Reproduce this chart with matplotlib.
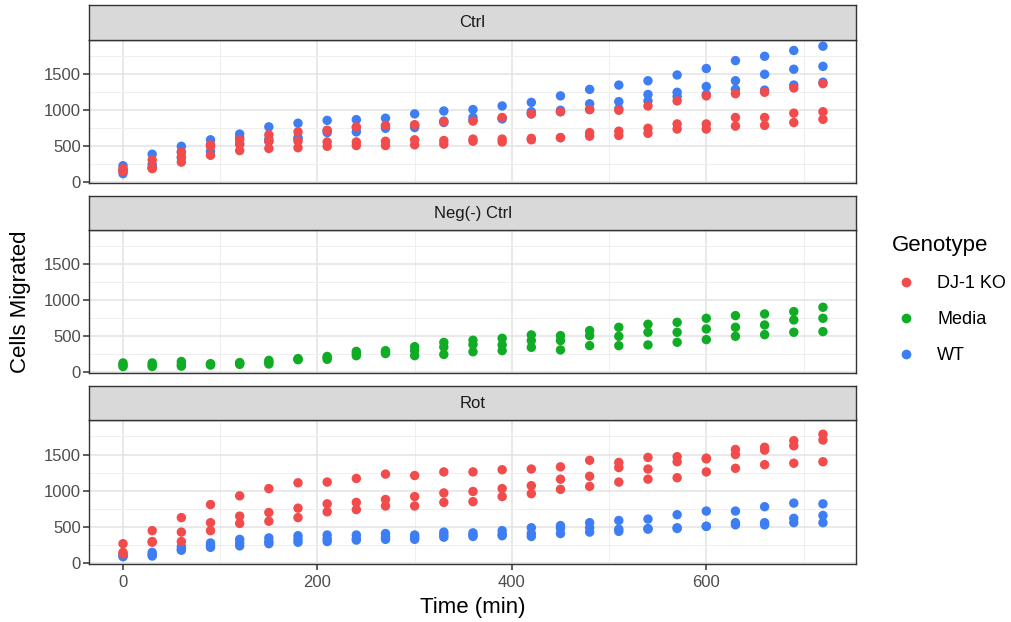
import matplotlib
matplotlib.use("Agg")
import matplotlib.pyplot as plt
from matplotlib.lines import Line2D
from matplotlib.ticker import MultipleLocator

plt.rcParams['font.family'] = ['Liberation Sans', 'DejaVu Sans']

# time points (min)
time = [0, 30, 60, 90, 120, 150, 180, 210, 240, 270, 300, 330, 360,
        390, 420, 450, 480, 510, 540, 570, 600, 630, 660, 690, 720]

# Ctrl panel, three replicates each
ctrl_wt = [
    [230, 390, 500, 590, 670, 770, 820, 860, 870, 890, 950, 990, 1010, 1060, 1110, 1200, 1290, 1350, 1410, 1490, 1580, 1690, 1750, 1830, 1890],
    [170, 250, 420, 520, 620, 600, 620, 720, 760, 780, 790, 850, 900, 890, 980, 1000, 1090, 1120, 1220, 1250, 1330, 1410, 1500, 1570, 1610],
    [120, 210, 340, 430, 530, 570, 600, 690, 700, 750, 760, 830, 860, 880, 950, 980, 1010, 1020, 1130, 1190, 1220, 1290, 1280, 1350, 1390],
]
ctrl_ko = [
    [190, 310, 420, 520, 590, 660, 700, 720, 770, 790, 800, 840, 850, 900, 950, 980, 1010, 1000, 1060, 1130, 1200, 1230, 1250, 1310, 1370],
    [160, 200, 350, 500, 530, 570, 570, 560, 560, 570, 590, 580, 600, 600, 610, 620, 690, 710, 750, 810, 810, 900, 900, 960, 980],
    [150, 190, 280, 375, 440, 470, 480, 500, 510, 510, 520, 530, 570, 560, 590, 620, 640, 650, 680, 740, 740, 780, 790, 830, 875],
]

# Neg(-) Ctrl panel
neg_media = [
    [130, 130, 150, 120, 135, 165, 190, 220, 290, 300, 356, 415, 445, 472, 519, 509, 579, 625, 667, 694, 750, 787, 810, 843, 903],
    [100, 100, 110, 110, 125, 140, 180, 200, 260, 280, 301, 350, 385, 380, 440, 440, 509, 500, 556, 556, 602, 625, 657, 727, 750],
    [80, 80, 85, 100, 110, 115, 175, 180, 230, 260, 231, 248, 285, 301, 347, 310, 370, 370, 380, 417, 454, 500, 523, 556, 565],
]

# Rot panel
rot_ko = [
    [270, 450, 630, 810, 930, 1030, 1110, 1120, 1170, 1230, 1210, 1260, 1260, 1290, 1300, 1330, 1420, 1390, 1460, 1470, 1450, 1570, 1600, 1690, 1780],
    [150, 300, 430, 560, 650, 700, 760, 820, 840, 880, 920, 970, 990, 1030, 1070, 1160, 1200, 1320, 1300, 1400, 1440, 1500, 1560, 1620, 1700],
    [130, 290, 300, 450, 550, 580, 630, 710, 740, 790, 790, 840, 850, 920, 960, 1020, 1060, 1120, 1160, 1180, 1260, 1310, 1360, 1380, 1400],
]
rot_wt = [
    [120, 150, 230, 280, 330, 350, 380, 390, 390, 410, 390, 430, 420, 450, 490, 520, 560, 590, 610, 670, 720, 720, 780, 830, 820],
    [100, 120, 190, 250, 280, 300, 330, 340, 340, 360, 360, 390, 390, 400, 410, 480, 490, 470, 480, 490, 510, 560, 560, 620, 660],
    [90, 100, 180, 220, 240, 270, 290, 300, 320, 330, 330, 360, 370, 380, 370, 410, 430, 440, 470, 480, 510, 530, 530, 560, 560],
]

genotypes = ['DJ-1 KO', 'Media', 'WT']
colors = {'DJ-1 KO': '#F24B4B', 'Media': '#10AC26', 'WT': '#3D7EF5'}

panels = [
    ('Ctrl', [('WT', ctrl_wt), ('DJ-1 KO', ctrl_ko)]),
    ('Neg(-) Ctrl', [('Media', neg_media)]),
    ('Rot', [('WT', rot_wt), ('DJ-1 KO', rot_ko)]),
]

W, H = 1011, 622
fig = plt.figure(figsize=(W / 100, H / 100), dpi=100)

left, right = 89, 856
# (strip top, panel top, panel bottom) in pixels
rows = [(5, 40, 183), (196, 230, 373), (386, 420, 564)]


def px_box(x0, y0, x1, y1):
    return [x0 / W, 1 - y1 / H, (x1 - x0) / W, (y1 - y0) / H]


border = '#333333'
for i, (name, series) in enumerate(panels):
    st, pt, pb = rows[i]
    ax = fig.add_axes(px_box(left, pt, right, pb))
    for geno, reps in series:
        for rep in reps:
            ax.scatter(time, rep, s=46, color=colors[geno], edgecolors='none', zorder=3)
    ax.set_xlim(-35, 754)
    ax.set_ylim(-10, 1976)
    ax.xaxis.set_major_locator(MultipleLocator(200))
    ax.xaxis.set_minor_locator(MultipleLocator(100))
    ax.yaxis.set_major_locator(MultipleLocator(500))
    ax.yaxis.set_minor_locator(MultipleLocator(250))
    ax.grid(True, which='major', color='#E3E3E3', linewidth=1.1, zorder=0)
    ax.grid(True, which='minor', color='#EFEFEF', linewidth=0.7, zorder=0)
    ax.set_axisbelow(True)
    for sp in ax.spines.values():
        sp.set_color(border)
        sp.set_linewidth(1.0)
    ax.tick_params(which='minor', length=0)
    ax.tick_params(which='major', length=4, width=1.1, color='#333333',
                   labelsize=12, labelcolor='#4D4D4D', pad=2)
    ax.tick_params(axis='x', which='major', pad=4)
    if i < 2:
        ax.tick_params(axis='x', which='major', length=0, labelbottom=False)

    sax = fig.add_axes(px_box(left, st, right, pt))
    sax.set_facecolor('#D9D9D9')
    sax.set_xticks([])
    sax.set_yticks([])
    for sp in sax.spines.values():
        sp.set_color(border)
        sp.set_linewidth(1.0)
    sax.text(0.5, 0.5, name, ha='center', va='center', fontsize=12,
             color='#1A1A1A', transform=sax.transAxes)

fig.text((left + right) / 2 / W, 1 - 607 / H, 'Time (min)', ha='center', va='center', fontsize=16)
fig.text(21 / W, 1 - 302 / H, 'Cells Migrated', ha='center', va='center', rotation=90, fontsize=16)

handles = [Line2D([0], [0], marker='o', linestyle='none', markersize=7,
                  markerfacecolor=colors[g], markeredgecolor='none') for g in genotypes]
leg = fig.legend(handles, genotypes, title='Genotype', loc='upper left',
                 bbox_to_anchor=(885 / W, 1 - 228 / H), frameon=False,
                 fontsize=13, title_fontsize=16, labelspacing=1.05,
                 handletextpad=1.0, handlelength=1.5, borderaxespad=0)
leg._legend_box.align = 'left'

fig.savefig('out.png', dpi=100)
